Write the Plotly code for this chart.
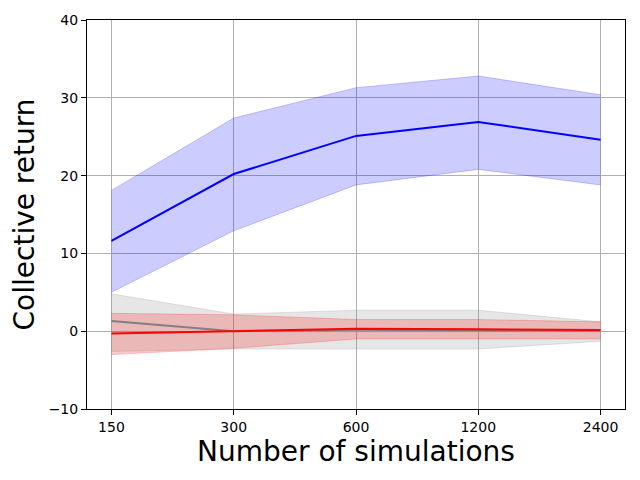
import plotly.graph_objects as go

categories = ["150", "300", "600", "1200", "2400"]

blue_mean = [11.6, 20.2, 25.1, 26.9, 24.6]
blue_upper = [18.1, 27.4, 31.3, 32.8, 30.4]
blue_lower = [5.0, 12.9, 18.8, 20.8, 18.8]

gray_mean = [1.3, 0.0, 0.2, 0.15, 0.05]
gray_upper = [4.8, 2.2, 2.7, 2.7, 1.2]
gray_lower = [-2.6, -2.3, -2.3, -2.3, -1.3]

red_mean = [-0.3, 0.0, 0.3, 0.25, 0.15]
red_upper = [2.3, 2.1, 1.5, 1.5, 1.2]
red_lower = [-3.0, -2.2, -1.0, -1.0, -1.0]

xs = list(range(len(categories)))

fig = go.Figure()

def add_band(upper, lower, fill, edge):
    fig.add_trace(go.Scatter(x=xs, y=upper, mode="lines", line=dict(color=edge, width=1),
                             showlegend=False, hoverinfo="skip"))
    fig.add_trace(go.Scatter(x=xs, y=lower, mode="lines", line=dict(color=edge, width=1),
                             fill="tonexty", fillcolor=fill, showlegend=False, hoverinfo="skip"))

add_band(blue_upper, blue_lower, "rgba(0,0,255,0.2)", "rgba(0,0,255,0.2)")
add_band(gray_upper, gray_lower, "rgba(128,128,128,0.2)", "rgba(128,128,128,0.2)")
add_band(red_upper, red_lower, "rgba(255,0,0,0.2)", "rgba(255,0,0,0.2)")
fig.add_trace(go.Scatter(x=xs, y=blue_mean, mode="lines", line=dict(color="blue", width=2), showlegend=False))
fig.add_trace(go.Scatter(x=xs, y=gray_mean, mode="lines", line=dict(color="gray", width=2), showlegend=False))
fig.add_trace(go.Scatter(x=xs, y=red_mean, mode="lines", line=dict(color="red", width=2), showlegend=False))

axis_common = dict(
    showline=True, linecolor="black", linewidth=1, mirror=True,
    ticks="outside", ticklen=5, tickwidth=1, tickcolor="black",
    showgrid=True, gridcolor="#b0b0b0", gridwidth=1, zeroline=False,
    automargin=False,
    tickfont=dict(family="DejaVu Sans", size=14, color="black"),
)

fig.update_layout(
    width=632, height=472,
    margin=dict(l=79, r=15, t=12, b=71),
    paper_bgcolor="white", plot_bgcolor="white",
    font=dict(family="DejaVu Sans", color="black"),
    xaxis=dict(range=[-0.2, 4.2], tickmode="array", tickvals=xs, ticktext=categories,
               title=dict(text="Number of simulations", font=dict(size=28), standoff=7),
               **axis_common),
    yaxis=dict(range=[-10, 40], tickmode="array", tickvals=[-10, 0, 10, 20, 30, 40],
               title=dict(text="Collective return", font=dict(size=28), standoff=10),
               **axis_common),
)

fig.write_html("out.html")
